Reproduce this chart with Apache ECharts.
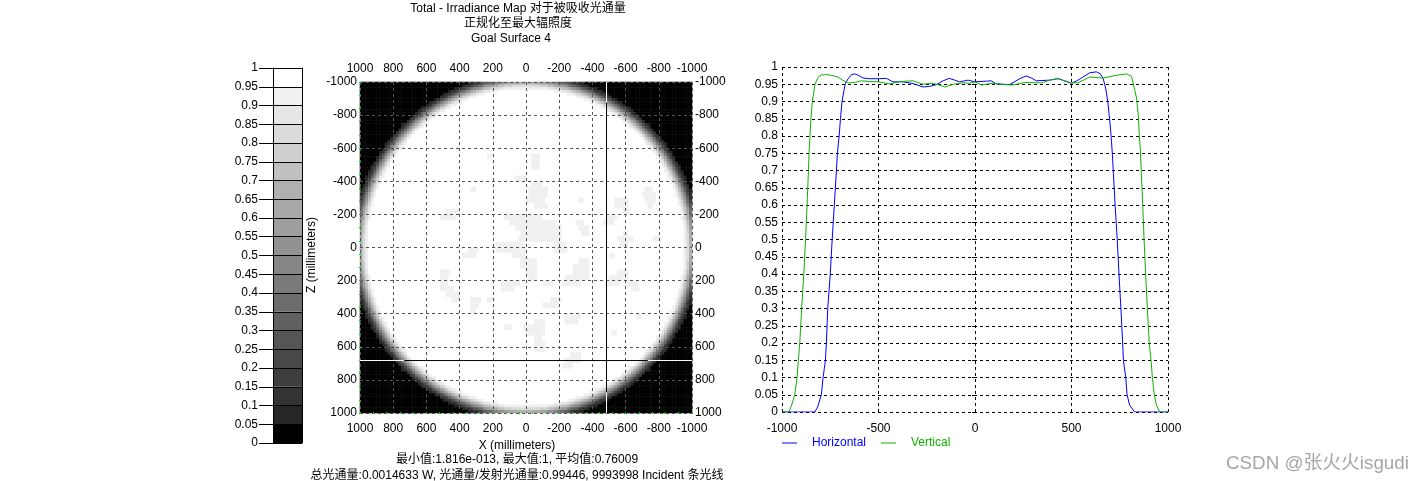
<!DOCTYPE html>
<html>
<head>
<meta charset="utf-8">
<style>html,body{margin:0;padding:0;background:#fff}#c{width:1423px;height:481px}</style>
<script src="https://cdn.jsdelivr.net/npm/echarts@6/dist/echarts.min.js"></script>
</head>
<body>
<div id="c"></div>
<script>
var titleLines = ['Total - Irradiance Map 对于被吸收光通量', '正规化至最大辐照度', 'Goal Surface 4'];
var statLines = ['最小值:1.816e-013, 最大值:1, 平均值:0.76009', '总光通量:0.0014633 W, 光通量/发射光通量:0.99446, 9993998 Incident 条光线'];
var watermark = 'CSDN @张火火isgudi';

var bandLows = [0,0.05,0.1,0.15,0.2,0.25,0.3,0.35,0.4,0.45,0.5,0.55,0.6,0.65,0.7,0.75,0.8,0.85,0.9,0.95];
var bandColors = ['#000000','#262626','#333333','#3e3e3e','#484848','#555555','#606060','#6c6c6c','#7a7a7a','#868686','#929292','#9e9e9e','#a8a8a8','#b0b0b0','#c0c0c0','#cfcfcf','#dbdbdb','#e6e6e6','#f0f0f0','#ffffff'];

// Irradiance bands of one corner of the symmetric disc, row by row from the outer edge:
// number of black cells, then the edge band indices (base 36); the rest of the row is the top band.
var cornerBlack = [39,37,34,32,30,29,27,25,24,22,21,20,19,18,17,15,15,14,13,12,11,10,9,9,8,7,7,6,6,5,4,4,3,3,2,2,2,1,1,0,0,0,0,0,0,0,0,0,0,0,0,0,0,0,0,0,0,0,0,0];
var cornerEdge = ['11223567789aabbcccddd','12235678abbcdeefffggggg','11235689abdeefgghhiiiiiiii','1224679acdefghhiii','122468abdefghii','22468acdfghii','12468acefhii','12368acefhii','12579bdfhii','12368bdfgii','12479ceghi','1268adfhi','2368beghi','2379cegi','247acfhi','1247adfhi','247adfhi','247adgi','247adgi','237adgi','137adfi','1269cfh','1268cfhi','248behi','137aegi','1269dgi','258cfh','137behi','269dgi','248bfh','126adgi','248cfi','126aehi','248cfi','126aehi','148cfi','26adhi','137bfi','259dgi','126aeh','138cfi','259dgi','26aeh','37bfi','58dgi','6aeh','7beh','7bfi','8cgi','9dgi','aeh','aeh','bfi','bfi','cfi','cgi','cgi','dgi','dgi','dgi'];
// Faint 0.9-0.95 patches inside the disc: [row pair, first column, last column].
var patchCells = [
[13,62,64],[14,62,64],[15,62,64],[13,46,47],[17,56,59],[18,62,65],[19,61,67],[20,61,67],[21,60,66],[22,63,67],[19,40,41],
[21,92,96],[22,92,96],[23,95,97],[19,103,105],[20,102,106],[21,103,106],[22,104,105],[23,31,35],[24,29,34],[21,79,80],
[24,52,65],[25,54,70],[26,56,72],[27,58,72],[28,57,72],[29,49,58],[29,70,74],[30,49,59],[30,70,74],[31,55,59],[32,58,63],[33,58,63],[34,60,63],[35,61,63],
[25,78,80],[26,79,82],[27,80,82],[24,89,92],[25,88,91],[27,95,96],[28,93,98],[29,94,96],[28,106,108],[31,90,91],
[32,79,82],[33,77,82],[34,77,82],[35,74,82],[36,73,79],[34,93,96],[35,90,96],[36,89,93],[36,96,100],[37,98,100],
[34,29,32],[35,29,31],[36,29,31],[37,29,33],[38,31,35],[39,33,35],[30,39,42],[31,37,41],[36,51,57],[37,51,55],[36,66,69],
[39,40,43],[40,40,42],[41,40,41],[39,46,48],[39,69,72],[40,66,71],[42,74,79],[43,74,78],[43,63,66],[44,59,66],[45,60,66],[44,52,54],[42,100,101],[45,91,92],
[46,63,65],[47,63,66],[48,63,66],[49,76,79],[50,74,79],[51,73,76]
];
var cursorX = -485, cursorZ = 683, cursorEdgeX = 733, cursorEdgeZ = 875;

var horizontalX = [-1000,-830,-815,-796,-787,-775,-770,-763,-750,-740,-729,-718,-713,-704,-697,-689,-673,-666,-657,-640,-623,-605,-580,-545,-502,-459,-425,-373,-321,-269,-234,-200,-165,-134,-105,-79,-36,-27,-1,59,84,110,180,232,266,292,318,387,430,465,500,525,560,594,629,650,664,677,688,695,702,707,712,717,726,737,746,756,765,769,781,788,801,827,1000];
var horizontalY = [0,0,0.015,0.05,0.1,0.15,0.2,0.3,0.4,0.5,0.6,0.7,0.75,0.8,0.85,0.9,0.95,0.958,0.966,0.978,0.98,0.976,0.968,0.966,0.966,0.967,0.957,0.957,0.952,0.942,0.944,0.949,0.96,0.967,0.962,0.957,0.962,0.961,0.957,0.959,0.96,0.951,0.949,0.966,0.974,0.968,0.96,0.962,0.966,0.96,0.953,0.959,0.971,0.983,0.986,0.98,0.966,0.939,0.9,0.862,0.823,0.785,0.746,0.692,0.6,0.5,0.4,0.3,0.2,0.15,0.1,0.05,0.02,0,0];
var verticalX = [-1000,-964,-950,-934,-922,-915,-908,-898,-887,-878,-870,-863,-860,-855,-850,-843,-829,-813,-796,-770,-744,-710,-684,-657,-623,-588,-545,-502,-441,-389,-321,-269,-226,-191,-157,-113,-62,-27,-1,33,94,146,198,258,344,387,430,491,534,594,664,733,785,811,829,837,846,851,856,862,869,876,884,893,903,912,919,929,940,957,1000];
var verticalY = [0,0,0.02,0.05,0.1,0.15,0.2,0.3,0.4,0.5,0.6,0.7,0.75,0.8,0.85,0.9,0.95,0.97,0.977,0.978,0.976,0.971,0.961,0.954,0.955,0.96,0.958,0.957,0.951,0.958,0.96,0.95,0.953,0.949,0.942,0.95,0.954,0.953,0.957,0.948,0.953,0.949,0.948,0.955,0.954,0.962,0.967,0.954,0.954,0.971,0.968,0.976,0.98,0.973,0.93,0.91,0.862,0.804,0.766,0.692,0.6,0.5,0.4,0.3,0.2,0.15,0.1,0.05,0.02,0,0];

var FONT = '"Liberation Sans","Noto Sans CJK SC",sans-serif';
var txt = {fontFamily: FONT, fontSize: 12, color: '#000'};
var yNudge = [2, 0, 0, 0];
function plain(v) { return String(v); }
function pairs(xs, ys) { return xs.map(function (x, i) { return [x, ys[i]]; }); }

// Expand the corner table and stamp the patches into a 120x120 matrix.
var N = 120, H = 60, WHITE = 19, PATCH = 18;
var corner = cornerEdge.map(function (edge, i) {
  var cells = [];
  for (var b = 0; b < cornerBlack[i]; b++) cells.push(0);
  for (var e = 0; e < edge.length; e++) cells.push(parseInt(edge.charAt(e), 36));
  while (cells.length < H) cells.push(WHITE);
  return cells;
});
var matrix = [];
for (var r = 0; r < N; r++) {
  var src = corner[r < H ? r : N - 1 - r], row = [];
  for (var c = 0; c < N; c++) row.push(src[c < H ? c : N - 1 - c]);
  matrix.push(row);
}
patchCells.forEach(function (p) {
  for (var c = p[1]; c <= p[2]; c++) { matrix[2 * p[0]][c] = PATCH; matrix[2 * p[0] + 1][c] = PATCH; }
});
var heatData = [];
for (var r2 = 0; r2 < N; r2++) for (var c2 = 0; c2 < N; c2++) heatData.push([c2, r2, bandLows[matrix[r2][c2]] + 0.025]);
var cellNames = matrix.map(function (_, i) { return String(i); });

var mapXCommon = {type: 'value', min: -1000, max: 1000, interval: 200, inverse: true, gridIndex: 2, z: 3,
  axisLine: {show: false}, axisTick: {show: false}};
var mapYCommon = {type: 'value', min: -1000, max: 1000, interval: 200, inverse: true, gridIndex: 2, z: 3,
  axisLine: {show: false}, axisTick: {show: false}, axisLabel: Object.assign({margin: 3, padding: yNudge, formatter: plain, showMinLabel: true, showMaxLabel: true}, txt)};
var greyDash = {show: true, lineStyle: {color: '#555555', type: [3, 3], width: 1}};
var noSplit = {show: false};
function dots(pos) {
  return {type: 'value', min: 0, max: 2000, interval: 80, gridIndex: 2, position: pos, z: 4,
    axisLine: {show: false}, axisLabel: {show: false}, splitLine: {show: false},
    axisTick: {show: true, inside: true, length: 1, lineStyle: {color: '#00e000', width: 1}}};
}
var blackDash = {show: true, lineStyle: {color: '#000', type: [3, 3], width: 1}};
function head(text, left, top) {
  return {text: text, left: left, top: top, padding: 0, textAlign: 'center', textStyle: Object.assign({fontWeight: 'normal'}, txt)};
}

var option = {
  animation: false,
  backgroundColor: '#fff',
  textStyle: {fontFamily: FONT},
  title: [
    head(titleLines[0], 518, 3), head(titleLines[1], 518, 18), head(titleLines[2], 511, 33),
    head(statLines[0], 517, 454), head(statLines[1], 517, 470),
    {text: watermark, left: 1226, top: 454, padding: 0, textStyle: {fontWeight: 'normal', fontFamily: FONT, fontSize: 18.8, color: '#a6a6a6'}}
  ],
  grid: [
    {left: 273, top: 68, width: 29, height: 375},
    {left: 360, top: 82, width: 332, height: 331},
    {left: 360, top: 82, width: 332, height: 331},
    {left: 782, top: 67, width: 386, height: 345}
  ],
  xAxis: [
    {type: 'value', min: 0, max: 1, gridIndex: 0, position: 'top', axisLabel: {show: false}, axisTick: {show: false}, splitLine: {show: false},
      axisLine: {show: true, onZero: false, lineStyle: {color: '#000'}}},
    {type: 'category', data: cellNames, gridIndex: 1, show: false},
    Object.assign({}, mapXCommon, {position: 'bottom', splitLine: greyDash, name: 'X (millimeters)', nameLocation: 'middle', nameGap: 22,
      axisLabel: Object.assign({margin: 10, formatter: plain, showMinLabel: true, showMaxLabel: true}, txt),
      nameTextStyle: Object.assign({padding: [0, 18, 0, 0]}, txt)}),
    Object.assign({}, mapXCommon, {position: 'top', splitLine: noSplit,
      axisLabel: Object.assign({margin: 7, formatter: plain, showMinLabel: true, showMaxLabel: true}, txt)}),
    dots('bottom'), dots('top'),
    {type: 'value', min: -1000, max: 1000, interval: 500, gridIndex: 3, axisLine: {show: false}, axisTick: {show: false},
      axisLabel: Object.assign({margin: 11, formatter: plain, showMinLabel: true, showMaxLabel: true}, txt), splitLine: blackDash}
  ],
  yAxis: [
    {type: 'value', min: 0, max: 1, interval: 0.05, gridIndex: 0, position: 'left', z: 3,
      axisLine: {show: true, lineStyle: {color: '#000'}},
      axisTick: {show: true, length: 14, lineStyle: {color: '#000'}},
      axisLabel: Object.assign({margin: 15, padding: yNudge, formatter: plain}, txt),
      splitLine: {show: true, lineStyle: {color: '#000', width: 1}}},
    {type: 'category', data: cellNames, inverse: true, gridIndex: 1, show: false},
    Object.assign({}, mapYCommon, {position: 'left', splitLine: greyDash, name: 'Z (millimeters)', nameLocation: 'middle', nameGap: 42,
      nameTextStyle: Object.assign({padding: [0, 15, 0, 0]}, txt)}),
    Object.assign({}, mapYCommon, {position: 'right', splitLine: noSplit}),
    dots('left'), dots('right'),
    {type: 'value', min: 0, max: 1, interval: 0.05, gridIndex: 3, axisLine: {show: false},
      axisTick: {show: true, length: 3, lineStyle: {color: '#000'}},
      axisLabel: Object.assign({margin: 4, padding: yNudge, formatter: plain}, txt), splitLine: blackDash},
    {type: 'value', min: 0, max: 1, gridIndex: 0, position: 'right', z: 3, axisLabel: {show: false}, axisTick: {show: false}, splitLine: {show: false},
      axisLine: {show: true, onZero: false, lineStyle: {color: '#000'}}}
  ],
  visualMap: [{
    type: 'piecewise', show: false, seriesIndex: 1, dimension: 2,
    pieces: bandLows.map(function (lo, i) { return {gte: lo, lt: lo + 0.05, color: bandColors[i]}; })
  }],
  legend: {
    left: 782, top: 437, padding: 0, selectedMode: false, icon: 'rect', itemWidth: 15, itemHeight: 1, itemGap: 15,
    textStyle: Object.assign({}, txt, {padding: [0, 0, 0, 10]}),
    data: [
      {name: 'Horizontal', textStyle: {color: '#0000ff'}},
      {name: 'Vertical', textStyle: {color: '#10b000'}}
    ]
  },
  series: [
    {
      type: 'custom', name: 'scale', xAxisIndex: 0, yAxisIndex: 0, z: 1, silent: true,
      data: bandLows.map(function (lo, i) { return [lo, lo + 0.05, i]; }),
      renderItem: function (params, api) {
        var a = api.coord([0, api.value(1)]), b = api.coord([1, api.value(0)]);
        return {type: 'rect', shape: {x: a[0], y: a[1], width: b[0] - a[0], height: b[1] - a[1]},
          style: {fill: bandColors[api.value(2)], stroke: null}};
      }
    },
    {type: 'heatmap', name: 'map', xAxisIndex: 1, yAxisIndex: 1, data: heatData, silent: true, z: 1, progressive: 0, emphasis: {disabled: true}},
    {type: 'line', name: 'cursor-on-black', xAxisIndex: 2, yAxisIndex: 2, showSymbol: false, symbol: 'none', silent: true, z: 5,
      lineStyle: {color: '#ffffff', width: 1},
      data: [[cursorX, -1000], [cursorX, -cursorEdgeZ], ['-', '-'], [cursorX, cursorEdgeZ], [cursorX, 1000], ['-', '-'],
             [1000, cursorZ], [cursorEdgeX, cursorZ], ['-', '-'], [-cursorEdgeX, cursorZ], [-1000, cursorZ]]},
    {type: 'line', name: 'cursor-on-white', xAxisIndex: 2, yAxisIndex: 2, showSymbol: false, symbol: 'none', silent: true, z: 5,
      lineStyle: {color: '#000000', width: 1},
      data: [[cursorX, -cursorEdgeZ], [cursorX, cursorEdgeZ], ['-', '-'], [cursorEdgeX, cursorZ], [-cursorEdgeX, cursorZ]]},
    {type: 'line', name: 'Horizontal', xAxisIndex: 6, yAxisIndex: 6, showSymbol: false, symbol: 'none', z: 6,
      itemStyle: {color: '#0000ff'}, lineStyle: {color: '#0000ff', width: 1}, data: pairs(horizontalX, horizontalY)},
    {type: 'line', name: 'Vertical', xAxisIndex: 6, yAxisIndex: 6, showSymbol: false, symbol: 'none', z: 7,
      itemStyle: {color: '#10b000'}, lineStyle: {color: '#10b000', width: 1}, data: pairs(verticalX, verticalY)}
  ]
};
var chart = echarts.init(document.getElementById('c'), null, {renderer: 'canvas'});
chart.setOption(option);
</script>
</body>
</html>
